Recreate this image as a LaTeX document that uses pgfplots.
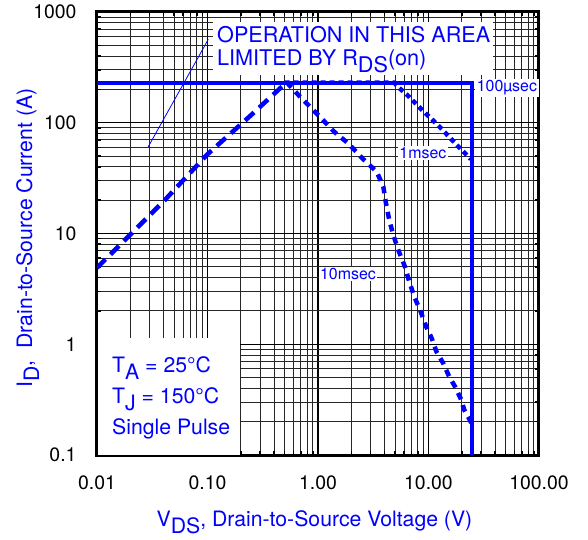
\documentclass[border=0pt]{standalone}
\usepackage{pgfplots}
\pgfplotsset{compat=1.18}
\usepackage{fontspec}
\setmainfont{TeX Gyre Heros}
\newcommand\dn[1]{\raisebox{-0.33em}{#1}}
\newcommand\labfont{\fontsize{21.3}{24}\selectfont}
\newcommand\boxfont{\fontsize{21.7}{24}\selectfont}
\newcommand\smallfont{\fontsize{16}{18}\selectfont}

\begin{document}
\begin{tikzpicture}
\begin{axis}[
  xmode=log, ymode=log,
  scale only axis, width=442bp, height=443bp,
  xmin=0.01, xmax=100, ymin=0.1, ymax=1000,
  xtick={0.01,0.1,1,10,100},
  xticklabels={0.01,0.10,1.00,10.00,100.00},
  ytick={0.1,1,10,100,1000},
  yticklabels={0.1,1,10,100,1000},
  grid=both,
  major grid style={black, line width=1.5bp},
  minor grid style={black!85, line width=0.9bp},
  axis line style={black, line width=3bp},
  tick align=inside,
  tick style={black, line width=1.5bp},
  major tick length=8bp, minor tick length=4bp,
  every tick label/.append style={font=\fontsize{19.5}{22}\selectfont, black},
  xticklabel style={yshift=-17.5bp},
  yticklabel style={xshift=-17bp},
  xlabel={V\dn{DS}, Drain-to-Source Voltage (V)},
  ylabel={I\dn{D},\ \ Drain-to-Source Current (A)},
  xlabel style={at={(axis description cs:0.492,-0.1615)}, anchor=base, font=\labfont, text=blue},
  ylabel style={at={(axis description cs:-0.147,0.49)}, anchor=base, font=\labfont, text=blue},
]
% white boxes behind the texts
\fill[white] (axis cs:0.0102,0.101) rectangle (axis cs:0.1968,1.139);
\fill[white] (axis cs:0.1121,812.4) rectangle (axis cs:38.35,269.9);

% 100 usec
\addplot[blue, line width=4bp] coordinates {(0.01,230) (25,230) (25,0.1)};

% 1 msec
\addplot[blue, line width=4.5bp, dash pattern=on 5bp off 4bp] coordinates {
  (0.5,230) (4.9,230) (5.34,209) (6.43,178) (7.93,144) (9.29,123) (11.1,104)
  (13.0,89) (15.3,75) (18.0,63) (21.4,53) (24.1,47)
};

% 10 msec, rising part
\addplot[blue, line width=4.5bp, dash pattern=on 12bp off 7bp] coordinates {
  (0.01,4.9) (0.041,20) (0.1,52) (0.243,115) (0.52,232)
};
% 10 msec, falling part
\addplot[blue, line width=4.5bp, dash pattern=on 7bp off 6bp] coordinates {
  (0.52,232) (0.687,172) (1.007,117) (1.4,83) (1.88,65) (2.57,46.8) (3.4,36.1)
  (3.9,26.5) (4.12,18.8) (4.42,13.2) (4.8,9.7) (5.33,7.1) (6.13,5.0) (6.7,3.67)
  (7.44,2.69) (8.5,1.97) (9.48,1.46) (10.7,1.13) (11.8,0.857) (13.6,0.673)
  (15.4,0.51) (17.4,0.414) (19.7,0.318) (21.1,0.255) (24.1,0.2) (25,0.18)
};

% pointer line
\addplot[blue, line width=0.8bp] coordinates {(0.029,60.4) (0.1016,566)};

% texts
\node[anchor=base west, inner sep=0pt, text=blue, font=\boxfont] at (axis cs:0.1219,535.8) {OPERATION IN THIS AREA};
\node[anchor=base west, inner sep=0pt, text=blue, font=\boxfont] at (axis cs:0.1219,332.2) {LIMITED BY R\dn{DS}(on)};

\node[anchor=base west, inner sep=0pt, text=blue, font=\labfont] at (axis cs:0.01367,0.5615) {T\dn{A} = 25°C};
\node[anchor=base west, inner sep=0pt, text=blue, font=\labfont] at (axis cs:0.01367,0.2948) {T\dn{J} = 150°C};
\node[anchor=base west, inner sep=0pt, text=blue, font=\labfont] at (axis cs:0.01367,0.1516) {Single Pulse};

\node[anchor=west, fill=white, inner sep=1.5bp, text=blue, font=\smallfont] at (axis cs:26.4,206) {100µsec};
\node[fill=white, inner sep=1.5bp, text=blue, font=\smallfont] at (axis cs:8.9,53.3) {1msec};
\node[fill=white, inner sep=1.5bp, text=blue, font=\smallfont] at (axis cs:1.87,4.3) {10msec};
\end{axis}
\pgfresetboundingbox
\path[use as bounding box] (-97bp,-85bp) rectangle (491bp,455bp);
\end{tikzpicture}
\end{document}
